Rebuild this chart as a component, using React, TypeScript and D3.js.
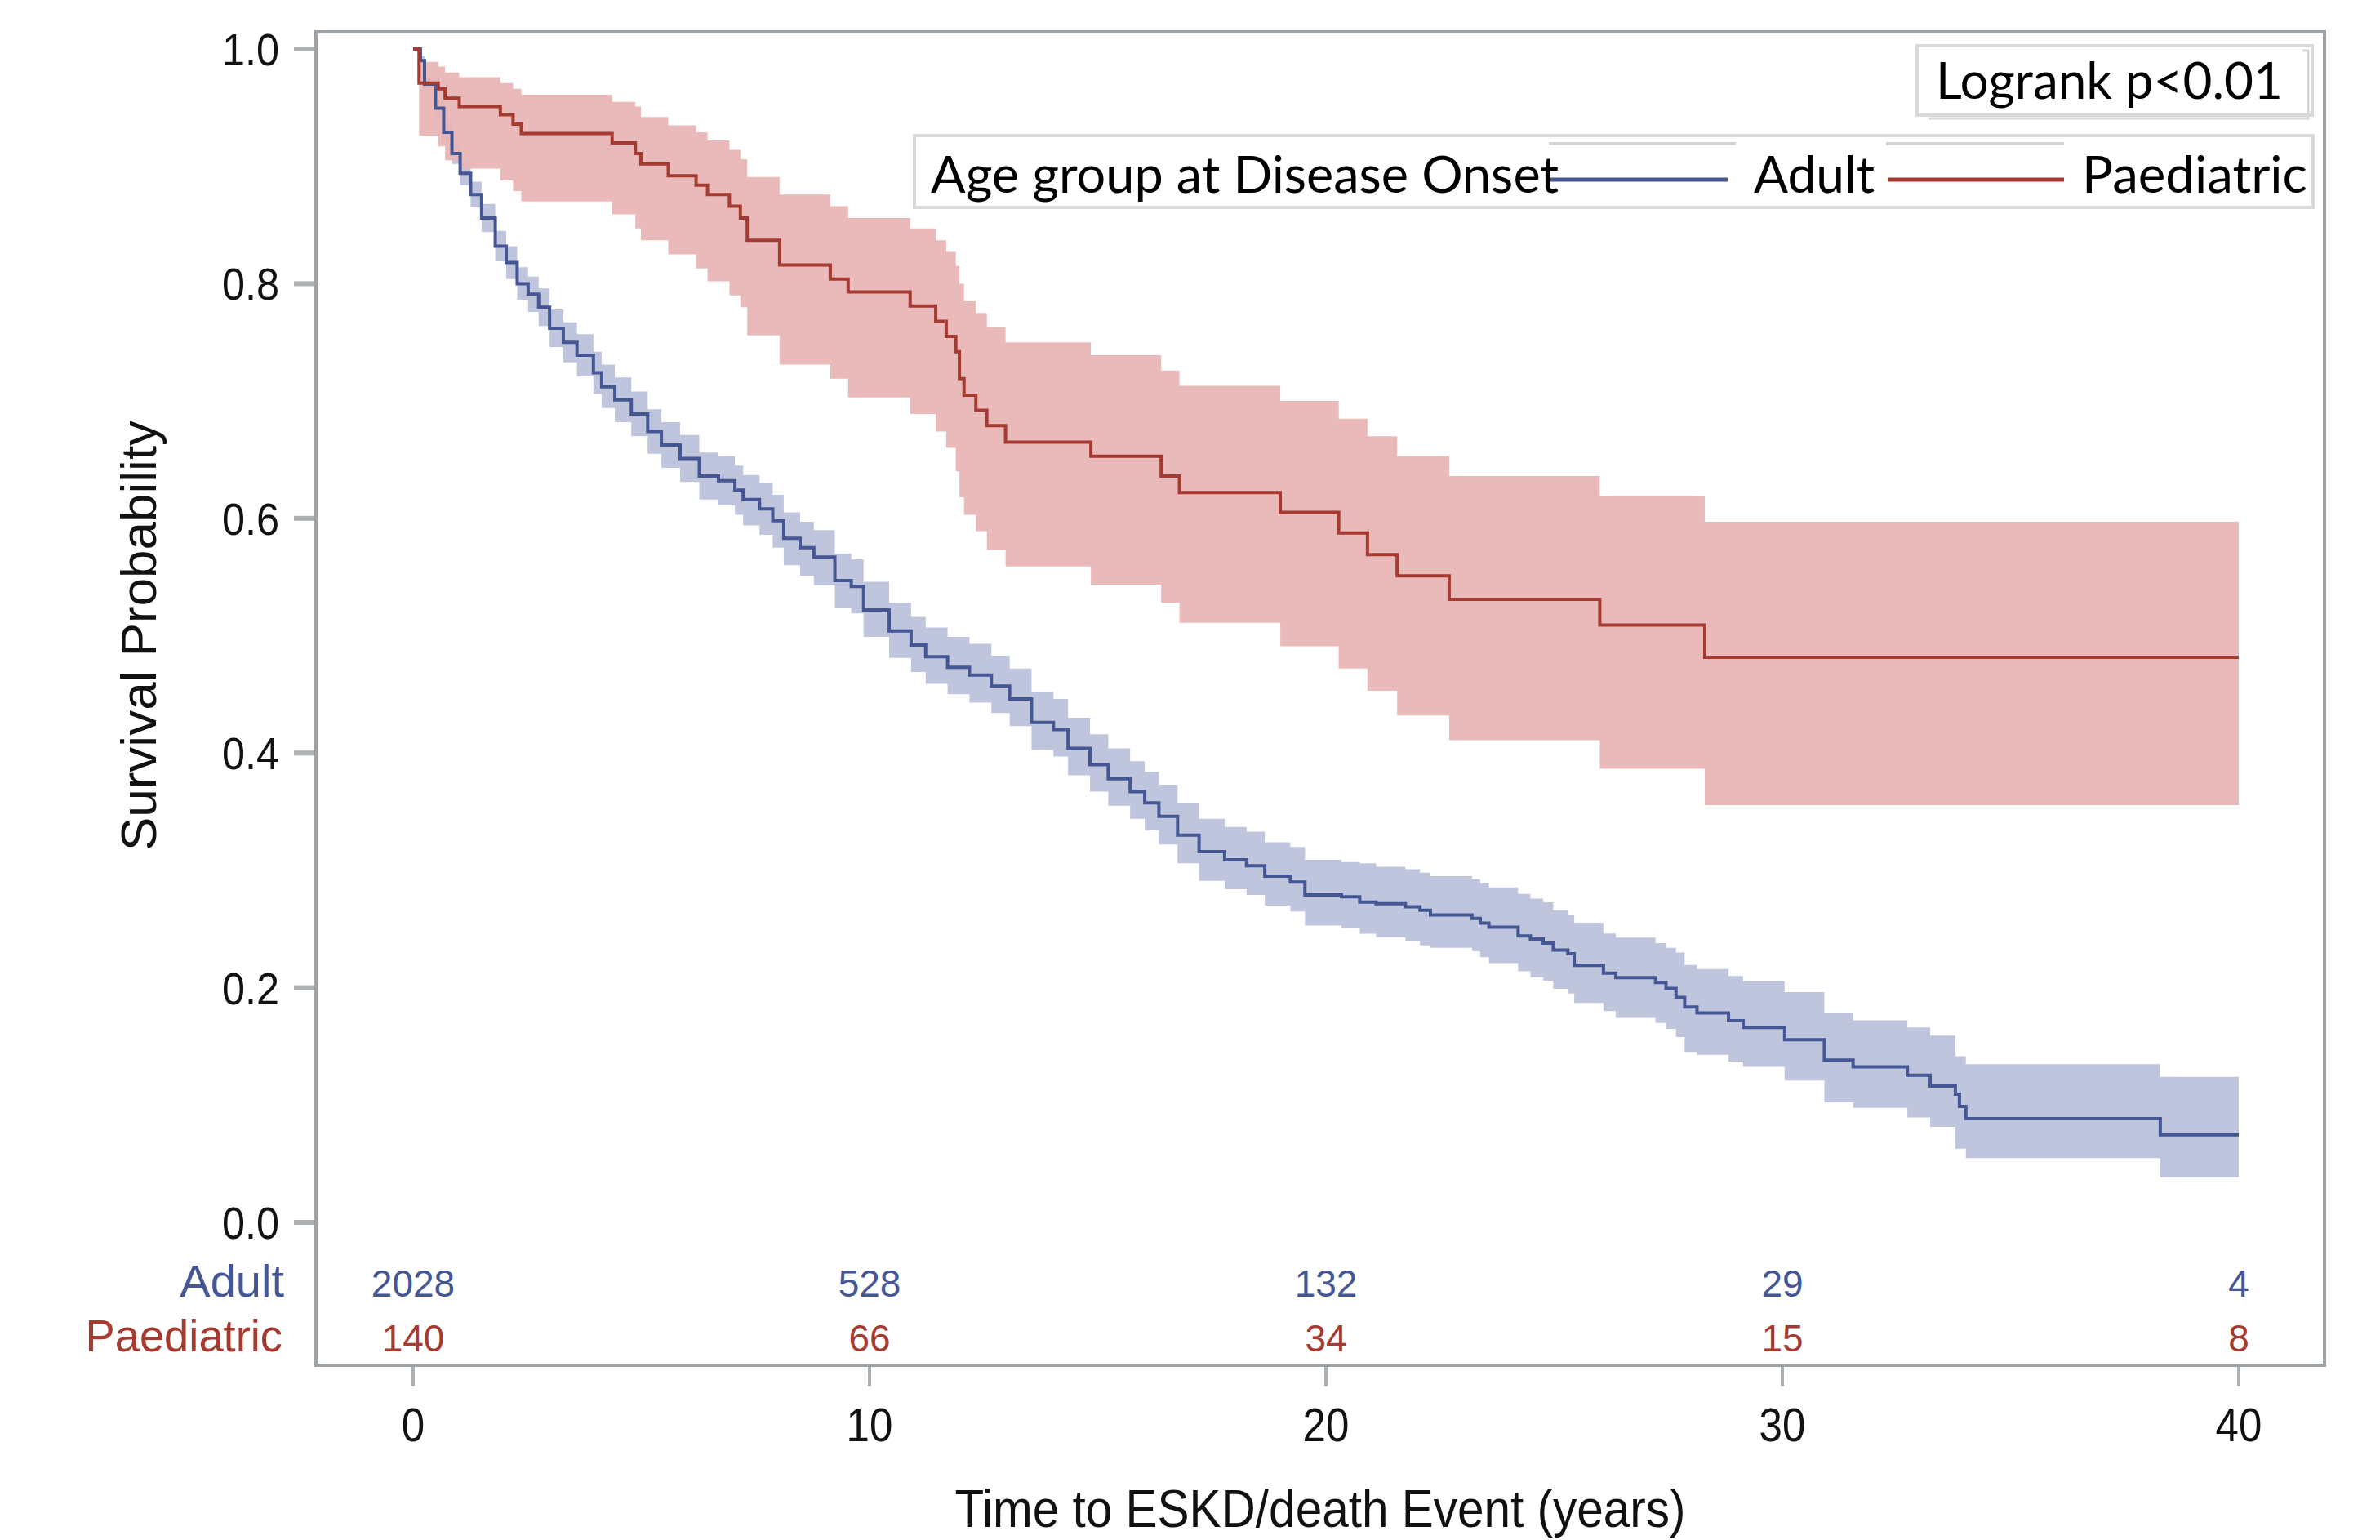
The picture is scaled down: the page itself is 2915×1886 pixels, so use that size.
import React from 'react';
import * as d3 from 'd3';

const W = 2915;
const H = 1886;

const xTicks = [0, 10, 20, 30, 40];
const yTicks = [0, 0.2, 0.4, 0.6, 0.8, 1.0];
const groupNames = ['Adult', 'Paediatric'];
const adultAtRisk = [2028, 528, 132, 29, 4];
const paedAtRisk = [140, 66, 34, 15, 8];

const adultTime = [0, 0.16, 0.25, 0.49, 0.67, 0.85, 1.03, 1.26, 1.5, 1.8, 2.04, 2.28, 2.52, 2.75, 2.99, 3.29, 3.59, 3.95, 4.13, 4.42, 4.78, 5.14, 5.44, 5.85, 6.27, 6.69, 7.05, 7.23, 7.59, 7.88, 8.12, 8.48, 8.78, 9.24, 9.6, 9.87, 10.43, 10.91, 11.23, 11.71, 12.19, 12.67, 13.07, 13.55, 14.03, 14.35, 14.83, 15.23, 15.71, 16.03, 16.34, 16.75, 17.22, 17.78, 18.26, 18.66, 19.22, 19.54, 20.34, 20.74, 21.1, 21.74, 22.06, 22.29, 23.2, 23.38, 23.57, 24.21, 24.48, 24.76, 24.98, 25.3, 25.44, 26.08, 26.35, 27.22, 27.45, 27.67, 27.86, 28.13, 28.82, 29.14, 30.05, 30.92, 31.55, 32.74, 33.24, 33.79, 33.88, 34.02, 38.28, 40];
const adultSurv = [1, 0.99, 0.97, 0.9495, 0.929, 0.911, 0.894, 0.876, 0.856, 0.832, 0.818, 0.8, 0.791, 0.78, 0.762, 0.75, 0.739, 0.724, 0.712, 0.701, 0.689, 0.674, 0.6625, 0.651, 0.636, 0.632, 0.624, 0.616, 0.608, 0.598, 0.583, 0.575, 0.567, 0.547, 0.542, 0.522, 0.504, 0.492, 0.482, 0.473, 0.4665, 0.457, 0.446, 0.426, 0.42, 0.404, 0.39, 0.378, 0.367, 0.3575, 0.346, 0.33, 0.316, 0.309, 0.304, 0.295, 0.29, 0.279, 0.2775, 0.273, 0.2716, 0.269, 0.266, 0.262, 0.259, 0.255, 0.2515, 0.244, 0.2415, 0.238, 0.232, 0.229, 0.219, 0.2125, 0.2086, 0.2044, 0.1993, 0.1917, 0.1836, 0.1785, 0.1719, 0.1661, 0.1557, 0.1383, 0.1325, 0.1255, 0.1162, 0.1093, 0.0988, 0.0884, 0.0747, 0.0747];
const adultLower = [1, 0.986, 0.965, 0.943, 0.921, 0.902, 0.884, 0.865, 0.844, 0.819, 0.804, 0.786, 0.776, 0.764, 0.746, 0.733, 0.721, 0.706, 0.694, 0.682, 0.67, 0.655, 0.643, 0.631, 0.616, 0.611, 0.603, 0.594, 0.586, 0.575, 0.56, 0.551, 0.543, 0.524, 0.519, 0.499, 0.481, 0.469, 0.459, 0.45, 0.443, 0.434, 0.423, 0.403, 0.397, 0.381, 0.367, 0.355, 0.344, 0.334, 0.322, 0.306, 0.291, 0.284, 0.279, 0.27, 0.265, 0.253, 0.251, 0.246, 0.243, 0.24, 0.236, 0.234, 0.231, 0.226, 0.221, 0.214, 0.209, 0.206, 0.199, 0.195, 0.187, 0.18, 0.1743, 0.17, 0.165, 0.158, 0.1453, 0.1429, 0.1371, 0.1325, 0.1209, 0.1023, 0.0976, 0.0895, 0.0814, 0.0628, 0.0628, 0.0548, 0.0383, 0.0383];
const adultUpper = [1, 0.994, 0.975, 0.956, 0.937, 0.92, 0.904, 0.887, 0.868, 0.845, 0.832, 0.814, 0.806, 0.796, 0.778, 0.767, 0.757, 0.742, 0.731, 0.72, 0.708, 0.693, 0.682, 0.671, 0.656, 0.653, 0.645, 0.637, 0.63, 0.62, 0.605, 0.597, 0.59, 0.57, 0.565, 0.546, 0.528, 0.516, 0.507, 0.499, 0.493, 0.483, 0.472, 0.452, 0.446, 0.43, 0.416, 0.404, 0.393, 0.384, 0.373, 0.357, 0.344, 0.337, 0.333, 0.324, 0.32, 0.309, 0.307, 0.306, 0.303, 0.301, 0.298, 0.295, 0.2925, 0.289, 0.2855, 0.28, 0.276, 0.2728, 0.266, 0.262, 0.2554, 0.2462, 0.2427, 0.238, 0.234, 0.23, 0.2194, 0.2159, 0.21, 0.2055, 0.1962, 0.1788, 0.1723, 0.1661, 0.1591, 0.1417, 0.1417, 0.1348, 0.124, 0.124];

const paedTime = [0, 0.13, 0.55, 0.7, 1.01, 1.91, 2.19, 2.37, 4.36, 4.87, 4.99, 5.59, 6.2, 6.45, 6.93, 7.17, 7.32, 8.03, 9.14, 9.53, 10.89, 11.45, 11.68, 11.89, 11.97, 12.07, 12.33, 12.57, 12.98, 14.85, 16.39, 16.79, 19.0, 20.28, 20.91, 21.56, 22.7, 26.0, 28.3, 40];
const paedSurv = [1, 0.971, 0.966, 0.958, 0.951, 0.944, 0.936, 0.928, 0.92, 0.911, 0.902, 0.892, 0.884, 0.876, 0.866, 0.856, 0.837, 0.816, 0.804, 0.793, 0.781, 0.768, 0.755, 0.742, 0.719, 0.705, 0.692, 0.679, 0.665, 0.653, 0.636, 0.622, 0.605, 0.5875, 0.569, 0.551, 0.531, 0.509, 0.4815, 0.4815];
const paedLower = [1, 0.926, 0.917, 0.905, 0.898, 0.888, 0.879, 0.87, 0.859, 0.847, 0.837, 0.825, 0.813, 0.802, 0.79, 0.78, 0.756, 0.731, 0.719, 0.703, 0.689, 0.674, 0.66, 0.64, 0.618, 0.603, 0.589, 0.573, 0.559, 0.5435, 0.528, 0.511, 0.491, 0.472, 0.453, 0.432, 0.411, 0.3866, 0.3556, 0.3556];
const paedUpper = [1, 0.989, 0.985, 0.98, 0.976, 0.971, 0.966, 0.961, 0.955, 0.951, 0.942, 0.935, 0.929, 0.922, 0.914, 0.906, 0.891, 0.876, 0.866, 0.856, 0.847, 0.837, 0.827, 0.815, 0.8, 0.785, 0.775, 0.763, 0.75, 0.739, 0.726, 0.713, 0.7, 0.685, 0.67, 0.653, 0.636, 0.619, 0.597, 0.597];

const BLUE = '#445694';
const RED = '#A53A30';
const BLUE_BAND = '#BFC5DD';
const RED_BAND = '#E8B5B5';
const FRAME = '#9DA2A6';
const TICK = '#ADB1B4';
const AXFONT = '"Liberation Sans", Arial, sans-serif';
const LEGFONT = 'Lato, "Open Sans", sans-serif';

type Row = { t: number; s: number; lo: number; hi: number };

function rows(t: number[], s: number[], lo: number[], hi: number[]): Row[] {
  return t.map((tt, i) => ({ t: tt, s: s[i], lo: lo[i], hi: hi[i] }));
}

export default function App() {
  const x = d3.scaleLinear().domain([0, 40]).range([506, 2742]);
  const y = d3.scaleLinear().domain([0, 1]).range([1497, 60]);

  const adult = rows(adultTime, adultSurv, adultLower, adultUpper);
  const paed = rows(paedTime, paedSurv, paedLower, paedUpper);

  const area = d3
    .area<Row>()
    .x((d) => x(d.t))
    .y0((d) => y(d.lo))
    .y1((d) => y(d.hi))
    .curve(d3.curveStepAfter);
  const line = d3
    .line<Row>()
    .x((d) => x(d.t))
    .y((d) => y(d.s))
    .curve(d3.curveStepAfter);

  const frameL = 387, frameT = 39, frameR = 2847, frameB = 1672;

  return (
    <svg
      width={W}
      height={H}
      viewBox={`0 0 ${W} ${H}`}
      style={{ position: 'absolute', left: 0, top: 0, background: '#fff' }}
    >
      <rect x={0} y={0} width={W} height={H} fill="#fff" />
      {/* confidence bands */}
      <path d={area(adult) || ''} fill={BLUE_BAND} />
      <path d={area(paed) || ''} fill={RED_BAND} fillOpacity={0.93} />
      {/* survival lines */}
      <path d={line(adult) || ''} fill="none" stroke={BLUE} strokeWidth={4} />
      <path d={line(paed) || ''} fill="none" stroke={RED} strokeWidth={4} />

      {/* frame */}
      <rect
        x={frameL}
        y={frameT}
        width={frameR - frameL}
        height={frameB - frameT}
        fill="none"
        stroke={FRAME}
        strokeWidth={4}
      />

      {/* y axis ticks */}
      {yTicks.map((v) => (
        <g key={'y' + v}>
          <line x1={360} x2={frameL - 2} y1={y(v)} y2={y(v)} stroke={TICK} strokeWidth={6} />
          <text
            transform={`translate(342,${y(v) + 20}) scale(0.9,1)`}
            textAnchor="end"
            fontFamily={AXFONT}
            fontSize={56}
            fill="#111"
          >
            {v.toFixed(1)}
          </text>
        </g>
      ))}

      {/* x axis ticks */}
      {xTicks.map((v) => (
        <g key={'x' + v}>
          <line x1={x(v)} x2={x(v)} y1={frameB + 2} y2={1698} stroke={TICK} strokeWidth={4} />
          <text
            transform={`translate(${x(v)},1765) scale(0.88,1)`}
            textAnchor="middle"
            fontFamily={AXFONT}
            fontSize={58}
            fill="#111"
          >
            {v}
          </text>
        </g>
      ))}

      {/* axis titles */}
      <text
        transform={`translate(1617,1870) scale(0.9,1)`}
        textAnchor="middle"
        fontFamily={AXFONT}
        fontSize={65}
        fill="#111"
      >
        Time to ESKD/death Event (years)
      </text>
      <text
        transform={`translate(191,${(y(0) + y(1)) / 2}) rotate(-90)`}
        textAnchor="middle"
        fontFamily={AXFONT}
        fontSize={62}
        fill="#111"
      >
        Survival Probability
      </text>

      {/* at-risk table */}
      <text x={348} y={1588} textAnchor="end" fontFamily={AXFONT} fontSize={56} fill={BLUE}>
        {groupNames[0]}
      </text>
      <text
        transform="translate(346,1655) scale(0.97,1)"
        textAnchor="end"
        fontFamily={AXFONT}
        fontSize={56}
        fill={RED}
      >
        {groupNames[1]}
      </text>
      {xTicks.map((v, i) => (
        <g key={'r' + v}>
          <text x={x(v)} y={1588} textAnchor="middle" fontFamily={AXFONT} fontSize={46} fill={BLUE}>
            {adultAtRisk[i]}
          </text>
          <text x={x(v)} y={1655} textAnchor="middle" fontFamily={AXFONT} fontSize={46} fill={RED}>
            {paedAtRisk[i]}
          </text>
        </g>
      ))}

      {/* group legend */}
      <rect x={1120} y={166} width={2833 - 1120} height={254 - 166} fill="#fff" stroke="#D9D9D9" strokeWidth={4} />
      <line x1={1897} x2={2126} y1={176} y2={176} stroke="#D3D3D3" strokeWidth={4} />
      <line x1={2310} x2={2528} y1={176} y2={176} stroke="#D3D3D3" strokeWidth={4} />
      <text
        x={1140}
        y={236}
        fontFamily={LEGFONT}
        fontSize={62}
        fill="#000"
        textLength={769}
        lengthAdjust="spacingAndGlyphs"
      >
        Age group at Disease Onset
      </text>
      <line x1={1899} x2={2116} y1={220} y2={220} stroke={BLUE} strokeWidth={5} />
      <text x={2148} y={236} fontFamily={LEGFONT} fontSize={62} fill="#000" textLength={148} lengthAdjust="spacingAndGlyphs">
        {groupNames[0]}
      </text>
      <line x1={2312} x2={2528} y1={220} y2={220} stroke={RED} strokeWidth={5} />
      <text x={2550} y={236} fontFamily={LEGFONT} fontSize={62} fill="#000" textLength={276} lengthAdjust="spacingAndGlyphs">
        {groupNames[1]}
      </text>

      {/* logrank box */}
      <path d="M2363,145 H2827 V62 H2820" fill="none" stroke="#D6D6D6" strokeWidth={3} />
      <rect x={2348} y={56} width={484} height={85} fill="none" stroke="#D9D9D9" strokeWidth={4} />
      <text
        x={2371}
        y={121}
        fontFamily={LEGFONT}
        fontSize={61}
        fill="#000"
        textLength={425}
        lengthAdjust="spacingAndGlyphs"
      >
        Logrank p&lt;0.01
      </text>
    </svg>
  );
}
